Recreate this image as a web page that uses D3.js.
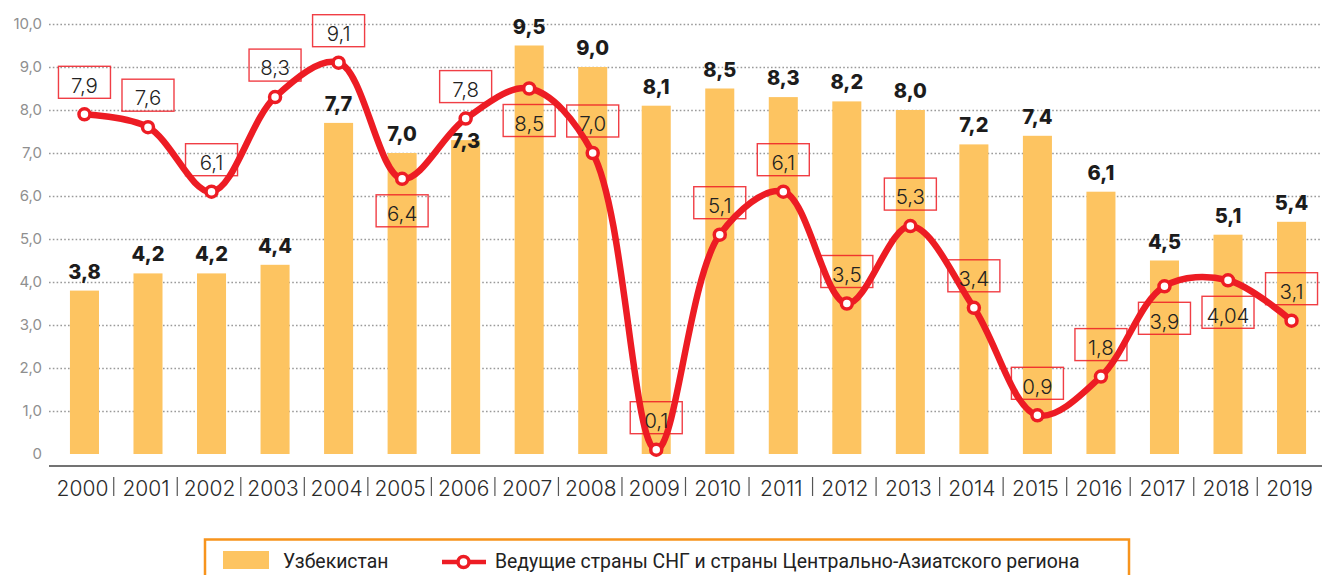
<!DOCTYPE html>
<html>
<head>
<meta charset="utf-8">
<script src="https://cdn.jsdelivr.net/npm/d3@7"></script>
<style>
  body { margin: 0; background: #fff; }
  svg { display: block; font-family: "Inter", "Open Sans", sans-serif; }
</style>
</head>
<body>
<svg id="chart" width="1322" height="575"></svg>
<script>
// data
var years = ["2000","2001","2002","2003","2004","2005","2006","2007","2008","2009",
             "2010","2011","2012","2013","2014","2015","2016","2017","2018","2019"];
var uzbekistan = [3.8, 4.2, 4.2, 4.4, 7.7, 7.0, 7.3, 9.5, 9.0, 8.1,
                  8.5, 8.3, 8.2, 8.0, 7.2, 7.4, 6.1, 4.5, 5.1, 5.4];
var cisLeaders = [7.9, 7.6, 6.1, 8.3, 9.1, 6.4, 7.8, 8.5, 7.0, 0.1,
                  5.1, 6.1, 3.5, 5.3, 3.4, 0.9, 1.8, 3.9, 4.04, 3.1];
var cisLabels  = ["7,9","7,6","6,1","8,3","9,1","6,4","7,8","8,5","7,0","0,1",
                  "5,1","6,1","3,5","5,3","3,4","0,9","1,8","3,9","4,04","3,1"];
// which side of the point the boxed label sits on
var cisLabelSide = ["up","up","up","up","up","down","up","down","up","up",
                    "up","up","up","up","up","up","up","down","down","up"];
var yTicks = [0,1,2,3,4,5,6,7,8,9,10];
var seriesNames = ["Узбекистан", "Ведущие страны СНГ и страны Центрально-Азиатского региона"];

var barColor = "#fdc461",
    red = "#ed1c24";

var svg = d3.select("#chart");

var x = d3.scaleBand()
    .domain(years)
    .range([52.7, 1323.3])
    .paddingInner(0.543)
    .paddingOuter(0.2715);

var y = d3.scaleLinear()
    .domain([0, 10])
    .range([454, 24]);

var fmt = function(d){ return d === 0 ? "0" : d.toFixed(1).replace(".", ","); };

// grid (dotted)
svg.append("g")
    .attr("transform", "translate(49,0)")
    .call(d3.axisLeft(y).tickValues(yTicks.slice(1)).tickSize(-(1322 - 49)).tickFormat(""))
    .call(function(g){ g.select(".domain").remove(); })
    .selectAll("line")
        .attr("stroke", "#9a9a9a")
        .attr("stroke-width", 1.6)
        .attr("stroke-dasharray", "1.6,2.2");

// y labels
svg.append("g")
    .attr("transform", "translate(49,0)")
    .call(d3.axisLeft(y).tickValues(yTicks).tickSize(0).tickPadding(7).tickFormat(fmt))
    .call(function(g){ g.select(".domain").remove(); })
    .selectAll("text")
        .attr("font-family", "Inter, sans-serif")
        .attr("font-size", 15)
        .attr("fill", "#8f8f8f");

// bars
svg.append("g").selectAll("rect")
    .data(uzbekistan)
    .join("rect")
        .attr("x", function(d, i){ return x(years[i]); })
        .attr("width", x.bandwidth())
        .attr("y", function(d){ return y(d); })
        .attr("height", function(d){ return y(0) - y(d); })
        .attr("fill", barColor);

// x axis
var xAxis = svg.append("g")
    .attr("transform", "translate(-2,466)")
    .call(d3.axisBottom(x).tickSize(0).tickPadding(15));
xAxis.select(".domain").remove();
xAxis.selectAll("text")
    .attr("font-family", "Inter, sans-serif")
    .attr("font-size", 21)
    .attr("font-weight", 300)
    .attr("fill", "#2a2a2a");

svg.append("line")
    .attr("x1", 49).attr("x2", 1322)
    .attr("y1", 466).attr("y2", 466)
    .attr("stroke", "#444")
    .attr("stroke-width", 1.6);

// separators between years
var half = x.step() * x.paddingInner() / 2;
svg.append("g").selectAll("line")
    .data(years.slice(1))
    .join("line")
        .attr("x1", function(d){ return x(d) - half - 2.5; })
        .attr("x2", function(d){ return x(d) - half - 2.5; })
        .attr("y1", 477).attr("y2", 496)
        .attr("stroke", "#555")
        .attr("stroke-width", 1.2);

var cx = function(i){ return x(years[i]) + x.bandwidth() / 2; };

// bar value labels (drop inside bar if the line marker is in the way)
svg.append("g").selectAll("text")
    .data(uzbekistan)
    .join("text")
        .attr("x", function(d, i){ return cx(i); })
        .attr("y", function(d, i){
            var top = y(d), base = top - 12, py = y(cisLeaders[i]);
            if (py > base - 23 && py < top + 8) return top + 8;
            return base;
        })
        .attr("text-anchor", "middle")
        .attr("font-family", "Inter, sans-serif")
        .attr("font-size", 20)
        .attr("font-weight", 800)
        .attr("fill", "#1c1c1c")
        .text(function(d){ return fmt(d); });

// the line
var line = d3.line()
    .x(function(d, i){ return cx(i); })
    .y(function(d){ return y(d); })
    .curve(d3.curveCatmullRom.alpha(0.5));

svg.append("path")
    .datum(cisLeaders)
    .attr("fill", "none")
    .attr("stroke", red)
    .attr("stroke-width", 6.5)
    .attr("stroke-linejoin", "round")
    .attr("d", line);

svg.append("g").selectAll("circle")
    .data(cisLeaders)
    .join("circle")
        .attr("cx", function(d, i){ return cx(i); })
        .attr("cy", function(d){ return y(d); })
        .attr("r", 5.5)
        .attr("fill", "#fff")
        .attr("stroke", red)
        .attr("stroke-width", 3.5);

// boxed labels for the line
var boxes = svg.append("g").selectAll("g")
    .data(cisLeaders)
    .join("g")
        .attr("transform", function(d, i){
            var by = y(d) + (cisLabelSide[i] === "up" ? -32 : 32);
            return "translate(" + cx(i) + "," + by + ")";
        });
boxes.append("rect")
    .attr("x", -26).attr("y", -16)
    .attr("width", 52).attr("height", 32)
    .attr("fill", "none")
    .attr("stroke", red)
    .attr("stroke-opacity", 0.85)
    .attr("stroke-width", 1.4);
boxes.append("text")
    .attr("text-anchor", "middle")
    .attr("dy", "0.5em")
    .attr("font-family", "Inter, sans-serif")
    .attr("font-size", 20.5)
    .attr("font-weight", 300)
    .attr("fill", "#222")
    .text(function(d, i){ return cisLabels[i]; });

// legend
var legend = svg.append("g");
legend.append("rect")
    .attr("x", 205).attr("y", 539.5)
    .attr("width", 924).attr("height", 60)
    .attr("fill", "none")
    .attr("stroke", "#f7941d")
    .attr("stroke-width", 2.5);
legend.append("rect")
    .attr("x", 223).attr("y", 551)
    .attr("width", 46).attr("height", 18)
    .attr("fill", barColor);
legend.append("text")
    .attr("x", 283).attr("y", 568)
    .attr("font-family", "Roboto, sans-serif")
    .attr("font-size", 19.4)
    .attr("fill", "#222")
    .text(seriesNames[0]);
legend.append("line")
    .attr("x1", 442).attr("x2", 486)
    .attr("y1", 562).attr("y2", 562)
    .attr("stroke", red)
    .attr("stroke-width", 4.5);
legend.append("circle")
    .attr("cx", 463.5).attr("cy", 562)
    .attr("r", 5.5)
    .attr("fill", "#fff")
    .attr("stroke", red)
    .attr("stroke-width", 3.5);
legend.append("text")
    .attr("x", 495).attr("y", 568)
    .attr("font-family", "Roboto, sans-serif")
    .attr("font-size", 19.4)
    .attr("fill", "#222")
    .text(seriesNames[1]);
</script>
</body>
</html>
